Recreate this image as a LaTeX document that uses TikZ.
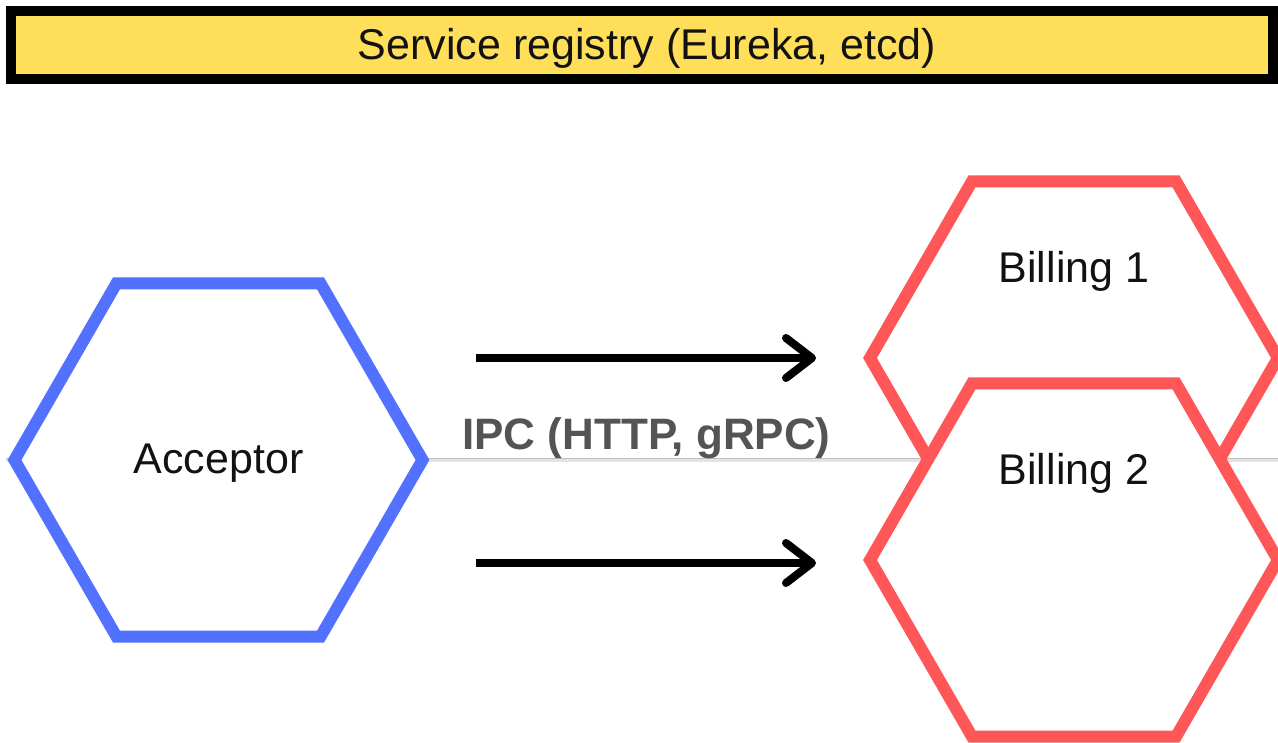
\documentclass[tikz,border=0pt]{standalone}
\usepackage{fontspec}
\setmainfont{Liberation Sans}
\usetikzlibrary{shapes.geometric,arrows.meta,backgrounds}
\definecolor{regyellow}{HTML}{FFDE59}
\definecolor{accblue}{HTML}{5271FF}
\definecolor{billred}{HTML}{FF5757}
\definecolor{ipcgray}{HTML}{545454}
\definecolor{busgray}{HTML}{E4E4E6}
\definecolor{busedge}{HTML}{BDBDBD}

\tikzset{
  hexa/.style={regular polygon, regular polygon sides=6, minimum size=408pt,
    inner sep=0pt, outer sep=0pt, line width=12pt, fill=white, draw=#1},
  svc/.style={font=\fontsize{43}{50}\selectfont, text=black!93, inner sep=0pt},
  call/.style={line width=8pt, -{Straight Barb[length=26pt, width=40pt, round]}},
  busline/.style={line width=3.5pt, draw=busgray},
}

\begin{document}
\begin{tikzpicture}[x=1pt,y=-1pt]
\useasboundingbox (0,0) rectangle (1278,743);

% registry bar
\node[draw=black, line width=10pt, fill=regyellow, minimum width=1262pt,
  minimum height=68pt, inner sep=0pt, outer sep=0pt] (reg) at (642,45) {};
\node[svc] (reglabel) at ([xshift=5pt,yshift=-3pt]reg.center)
  {Service registry (Eureka, etcd)};

% services
\node[hexa=accblue] (acc) at (218.5,460) {};
\node[hexa=billred] (b1) at (1074,358) {};
\node[hexa=billred] (b2) at (1074,560) {};
\node[svc] (acclabel) at ([yshift=-3pt]acc.center) {Acceptor};
\node[svc] (b1label) at ([yshift=87pt]b1.center) {Billing 1};
\node[svc] (b2label) at ([yshift=87pt]b2.center) {Billing 2};

% communication bus behind the services
\coordinate (busstart) at (6,460);
\coordinate (busend) at (1278,460);
\begin{pgfonlayer}{background}
  \draw[busline] (busstart) -- (busend);
  \draw[line width=1pt, draw=busedge] ([yshift=1.8pt]busstart) -- ([yshift=1.8pt]busend);
\end{pgfonlayer}

\node[font=\bfseries\fontsize{44}{50}\selectfont, text=ipcgray, inner sep=0pt]
  (ipc) at (646.5,438) {IPC (HTTP, gRPC)};

% calls
\coordinate (c1s) at (476,358);
\coordinate (c1e) at (816,358);
\coordinate (c2s) at (476,563);
\coordinate (c2e) at (816,563);
\draw[call] (c1s) -- (c1e);
\draw[call] (c2s) -- (c2e);
\end{tikzpicture}
\end{document}
